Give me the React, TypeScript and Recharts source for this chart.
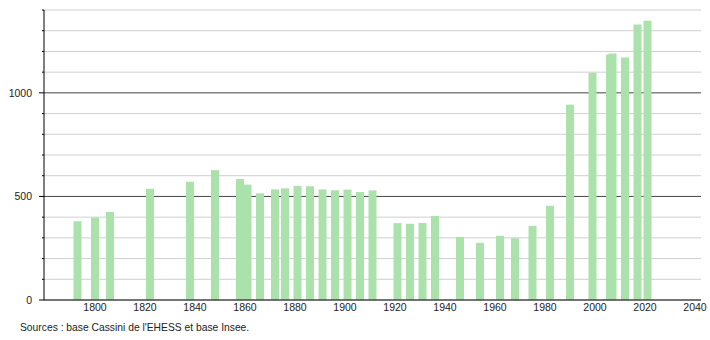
import { BarChart, Bar, XAxis, YAxis, CartesianGrid } from "recharts";

// années de recensement et population
const years = [
  1793, 1800, 1806, 1822, 1838, 1848, 1858, 1861, 1866, 1872, 1876, 1881, 1886,
  1891, 1896, 1901, 1906, 1911, 1921, 1926, 1931, 1936, 1946, 1954, 1962, 1968,
  1975, 1982, 1990, 1999, 2006, 2007, 2012, 2017, 2021,
];
const population = [
  380, 398, 425, 537, 571, 627, 584, 557, 515, 534, 539, 551, 549, 534, 530,
  533, 521, 529, 371, 368, 372, 406, 305, 276, 310, 298, 358, 455, 943, 1097,
  1185, 1190, 1171, 1330, 1348,
];
const xTicks = [1800, 1820, 1840, 1860, 1880, 1900, 1920, 1940, 1960, 1980, 2000, 2020, 2040];
const yTicks = [0, 100, 200, 300, 400, 500, 600, 700, 800, 900, 1000, 1100, 1200, 1300, 1400];
const yLabels = [0, 500, 1000];

const data = years.map((year, i) => ({ year, pop: population[i] }));

const FONT = "'Liberation Sans', Arial, sans-serif";
const BAR_W = 8;

const YTick = (props: any) => {
  const { x, y, payload } = props;
  const major = yLabels.includes(payload.value);
  return (
    <g>
      <line x1={x - (major ? 5 : 2)} x2={x} y1={y} y2={y} stroke="#000" strokeWidth={1} />
      {major && (
        <text x={x - 12} y={y} dy="0.355em" textAnchor="end" fontSize={10.5} fill="#222" fontFamily={FONT}>
          {payload.value}
        </text>
      )}
    </g>
  );
};

const GridLine = (props: any) => {
  const { x1, x2, y1, y2, index } = props;
  const dark = index === 5 || index === 10;
  return <line x1={x1} x2={x2} y1={y1} y2={y2} stroke={dark ? "#444" : "#cfcfcf"} strokeWidth={1} />;
};

// la largeur de bande est trop étroite (2006/2007), on centre une barre fixe
const WideBar = (props: any) => {
  const { x, y, width, height, fill } = props;
  const cx = x + width / 2;
  return <rect x={cx - BAR_W / 2} y={y} width={BAR_W} height={height} fill={fill} />;
};

export default function App() {
  return (
    <div style={{ position: "absolute", left: 0, top: 0, width: 710, height: 340, background: "#fff" }}>
      <BarChart
        width={710}
        height={340}
        data={data}
        margin={{ top: 10, right: 9, left: 0, bottom: 20 }}
      >
        <CartesianGrid vertical={false} horizontal={GridLine} />
        <XAxis
          type="number"
          dataKey="year"
          domain={[1779.6, 2042.4]}
          allowDataOverflow
          ticks={xTicks}
          tickLine={false}
          tickSize={0}
          tickMargin={4}
          height={20}
          axisLine={{ stroke: "#000" }}
          tick={{ fontSize: 10.5, fill: "#222", fontFamily: FONT }}
        />
        <YAxis
          domain={[0, 1400]}
          ticks={yTicks}
          interval={0}
          width={44}
          tickLine={false}
          tickSize={0}
          tickMargin={0}
          axisLine={{ stroke: "#000" }}
          tick={<YTick />}
        />
        <Bar dataKey="pop" fill="#abe2ab" shape={<WideBar />} isAnimationActive={false} />
      </BarChart>
      <div
        style={{
          position: "absolute",
          left: 20,
          top: 322,
          fontSize: 10.3,
          fontFamily: FONT,
          color: "#222",
        }}
      >
        Sources : base Cassini de l'EHESS et base Insee.
      </div>
    </div>
  );
}
